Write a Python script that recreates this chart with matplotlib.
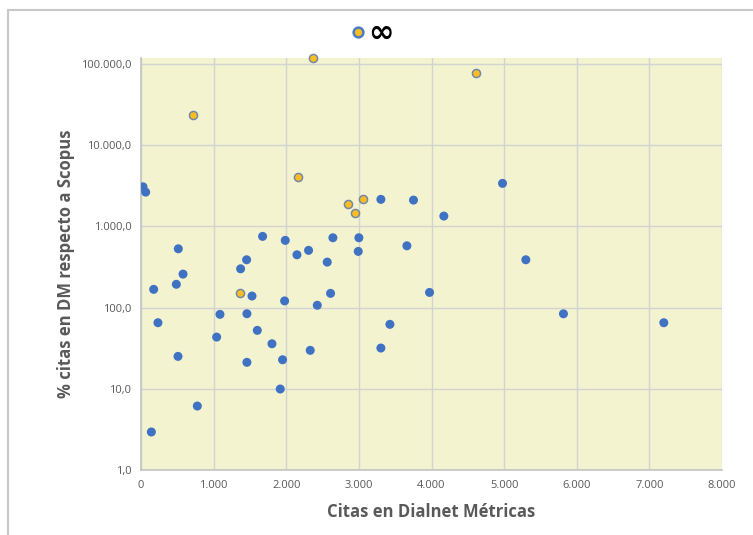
import numpy as np
import matplotlib.pyplot as plt
from matplotlib.lines import Line2D
from matplotlib.ticker import FixedLocator, FuncFormatter

# citas en Dialnet Metricas (x) y % citas en DM respecto a Scopus (y)
azul_x = [27, 64, 3303, 513, 1674, 1986, 2147, 2307, 2642, 3000, 2991, 2564,
          1454, 1371, 4978, 3752, 4170, 3661, 5299, 174, 486, 578, 1528, 1977,
          2427, 2610, 233, 1087, 1458, 1041, 1601, 1803, 2330, 1949, 1458, 509,
          1917, 775, 142, 3427, 3303, 3973, 5817, 7199]
azul_y = [3080, 2650, 2158, 531, 755, 674, 448, 508, 726, 726, 493, 364,
          389, 301, 3397, 2113, 1343, 578, 389, 168, 194, 259, 139, 121,
          107, 150, 65.2, 82.7, 84.2, 43.4, 52.5, 35.9, 29.8, 22.8, 21.2, 25.1,
          9.95, 6.14, 2.94, 62.3, 31.8, 154, 84, 65.2]

# revistas sin citas en Scopus (infinito)
naranja_x = [2362, 716, 2161, 2853, 2940, 3056, 4615, 1363]
naranja_y = [117500, 23300, 4060, 1870, 1475, 2158, 76800, 153]

xticks = [0, 1000, 2000, 3000, 4000, 5000, 6000, 7000, 8000]
yticks = [1, 10, 100, 1000, 10000, 100000]

gris = '#595959'

fig = plt.figure(figsize=(7.53, 5.35), dpi=100)
ax = fig.add_axes([0.1873, 0.1215, 0.7715, 0.7701])
ax.set_facecolor('#F3F3CF')

ax.scatter(azul_x, azul_y, s=42, color='#3F72C2', edgecolors='none', zorder=3)
ax.scatter(naranja_x, naranja_y, s=34, color='#FFBE1E', edgecolors='#7289A8',
           linewidths=1.1, zorder=3, clip_on=False)

ax.set_yscale('log')
ax.set_xlim(0, 8000)
ax.set_ylim(1, 1.19e5)
ax.xaxis.set_major_locator(FixedLocator(xticks))
ax.yaxis.set_major_locator(FixedLocator(yticks))
ax.yaxis.set_minor_locator(FixedLocator([]))
ax.xaxis.set_major_formatter(FuncFormatter(lambda v, p: f'{int(v):,}'.replace(',', '.')))
ax.yaxis.set_major_formatter(FuncFormatter(lambda v, p: f'{v:,.1f}'.replace(',', 'X').replace('.', ',').replace('X', '.')))

ax.grid(True, color='#D3D3D3', linewidth=1.0)
ax.set_axisbelow(True)
for s in ['top', 'right']:
    ax.spines[s].set_visible(False)
for s in ['left', 'bottom']:
    ax.spines[s].set_color('#C4C4C4')
    ax.spines[s].set_linewidth(1.2)

ax.tick_params(axis='both', length=0, labelsize=8, labelcolor=gris, pad=7)
for lab in ax.get_xticklabels() + ax.get_yticklabels():
    lab.set_fontfamily('Open Sans')

ax.set_xlabel('Citas en Dialnet Métricas', fontsize=12, fontweight='bold',
              color=gris, family='Open Sans', labelpad=9)
ax.set_ylabel('% citas en DM respecto a Scopus', fontsize=12, fontweight='bold',
              color=gris, family='Open Sans', labelpad=4)

handle = Line2D([], [], linestyle='none', marker='o', markersize=7,
                markerfacecolor='#FFBE1E', markeredgecolor='#4A7CC4', markeredgewidth=1.8)
fig.legend([handle], ['∞'], loc='center', bbox_to_anchor=(0.489, 0.937),
           frameon=False, handletextpad=-0.15, handlelength=1.0,
           prop={'size': 22, 'weight': 'bold', 'family': 'DejaVu Sans'})

# marco del grafico
fig.add_artist(Line2D([8/753, 8/753], [0, 1 - 10/535], color='#C8C8C8', lw=1.5))
fig.add_artist(Line2D([8/753, 1], [1 - 10/535, 1 - 10/535], color='#C8C8C8', lw=1.5))

plt.savefig('out.png')
